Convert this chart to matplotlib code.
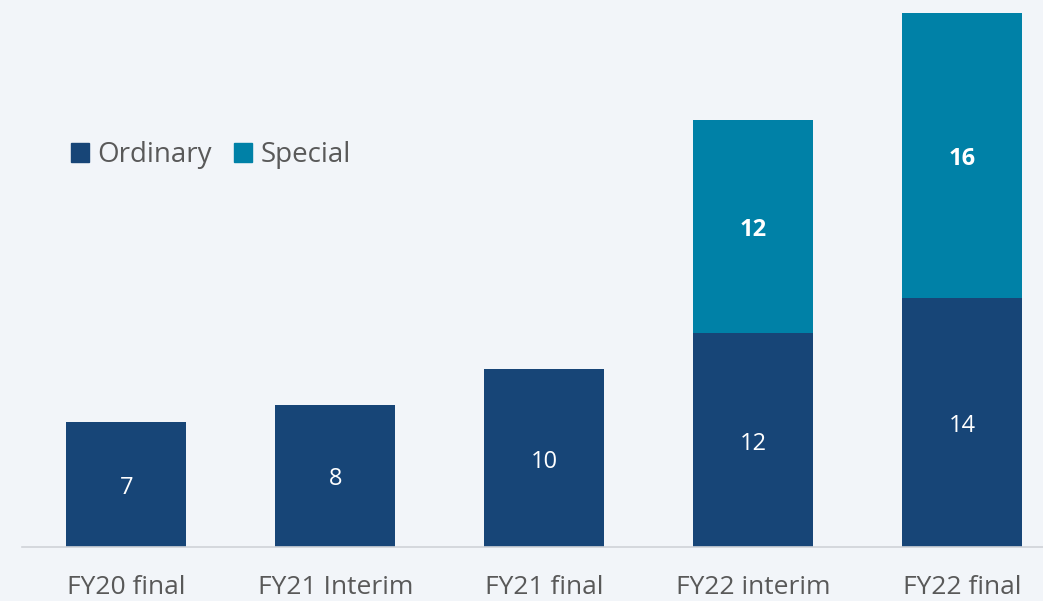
import matplotlib.pyplot as plt
from matplotlib.patches import Patch

# Dividend per share by period
periods = ["FY20 final", "FY21 Interim", "FY21 final", "FY22 interim", "FY22 final"]
ordinary = [7, 8, 10, 12, 14]
special = [0, 0, 0, 12, 16]

navy = "#174577"
teal = "#0081A7"
bg = "#F2F5F9"
grey = "#595959"

plt.rcParams["font.family"] = ["Open Sans", "DejaVu Sans"]

fig = plt.figure(figsize=(10.43, 6.01), dpi=100, facecolor=bg)
ax = fig.add_axes([22 / 1043, 54 / 601, 1 - 22 / 1043, 534 / 601], facecolor=bg)

x = range(len(periods))
w = 0.574
ax.bar(x, ordinary, width=w, color=navy, zorder=2)
ax.bar(x, special, width=w, bottom=ordinary, color=teal, zorder=2)

# data labels, sitting a touch below the middle of each segment
off = 0.2
for i in x:
    ax.text(i, ordinary[i] / 2 - off, str(ordinary[i]), ha="center", va="center",
            color="white", fontsize=17)
    if special[i] > 0:
        ax.text(i, ordinary[i] + special[i] / 2 - off, str(special[i]), ha="center",
                va="center", color="white", fontsize=17, fontweight="bold")

ax.set_xlim(-0.5, (1043 - 126) / 209)
ax.set_ylim(0, 30)
ax.set_xticks(list(x))
ax.set_xticklabels(periods, fontsize=19, color=grey)
ax.tick_params(axis="x", length=0, pad=20)
ax.set_yticks([])
for s in ["top", "right", "left"]:
    ax.spines[s].set_visible(False)
ax.spines["bottom"].set_color("#D0D3D8")
ax.spines["bottom"].set_linewidth(1.2)

handles = [Patch(color=navy, label="Ordinary"), Patch(color=teal, label="Special")]
leg = ax.legend(handles=handles, loc="center left", bbox_to_anchor=(38 / 1021, (547 - 155) / 534),
                ncol=2, frameon=False, fontsize=20, handlelength=0.65, handleheight=0.65,
                handletextpad=0.3, columnspacing=0.8, borderaxespad=0)
for t in leg.get_texts():
    t.set_color(grey)

fig.savefig("out.png", dpi=100, facecolor=bg)
